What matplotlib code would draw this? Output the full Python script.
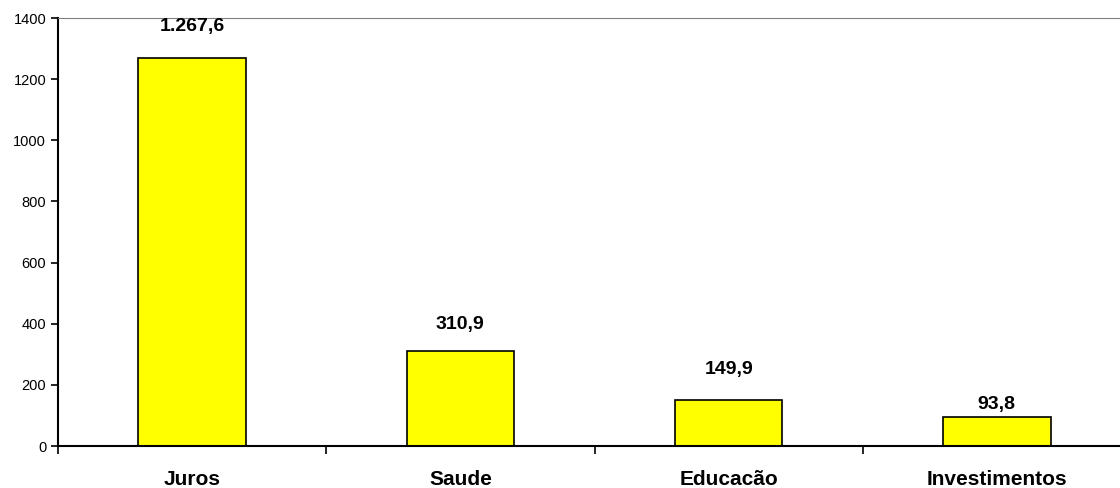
import matplotlib.pyplot as plt
from matplotlib.ticker import FixedLocator

# Dados
categorias = ["Juros", "Saude", "Educacão", "Investimentos"]
valores = [1267.6, 310.9, 149.9, 93.8]
rotulos = ["1.267,6", "310,9", "149,9", "93,8"]
yticks = [0, 200, 400, 600, 800, 1000, 1200, 1400]

plt.rcParams['font.family'] = ['Liberation Sans', 'DejaVu Sans']

fig = plt.figure(figsize=(11.2, 4.88), dpi=100)
ax = fig.add_axes([58/1120, 42/488, 1073/1120, 428/488])

x = list(range(len(categorias)))
ax.bar(x, valores, width=0.40, color='#FFFF00', edgecolor='black', linewidth=1.2, zorder=2)

# rotulos acima das barras (deslocamento em pontos)
desloc = [17, 13, 16, 3]
for xi, v, r, d in zip(x, valores, rotulos, desloc):
    ax.annotate(r, (xi, v), xytext=(0, d), textcoords='offset points',
                ha='center', va='bottom', fontsize=14, fontweight='bold')

ax.set_xlim(-0.5, len(categorias) - 0.5)
ax.set_ylim(0, 1400)
ax.set_yticks(yticks)
ax.tick_params(axis='y', labelsize=10.5, length=5, width=1.2, direction='out')

ax.set_xticks(x)
ax.set_xticklabels(categorias, fontsize=15, fontweight='bold')
ax.xaxis.set_minor_locator(FixedLocator([i + 0.5 for i in range(len(categorias) - 1)] + [-0.5]))
ax.tick_params(axis='x', which='major', length=0, pad=17)
ax.tick_params(axis='x', which='minor', length=6, width=1.2, direction='out')

ax.spines['right'].set_visible(False)
ax.spines['top'].set_color('#808080')
ax.spines['left'].set_linewidth(1.5)
ax.spines['bottom'].set_linewidth(1.5)

fig.savefig('out.png', dpi=100)
